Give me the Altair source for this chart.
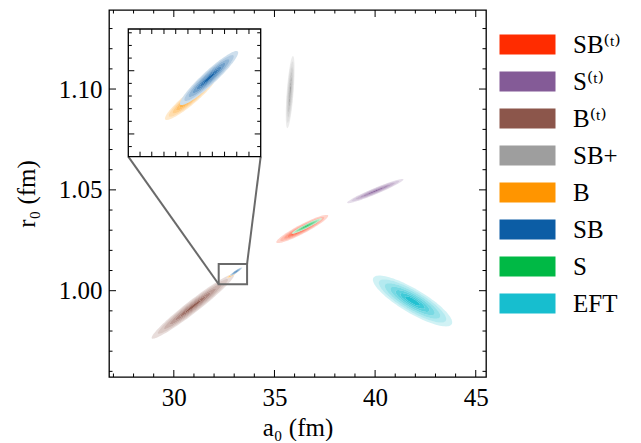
import numpy as np
import pandas as pd
import altair as alt

# ---------------- data ----------------
categories = ["SB⁽ᵗ⁾", "S⁽ᵗ⁾", "B⁽ᵗ⁾", "SB+", "B", "SB", "S", "EFT"]
colors = ["#FF2C00", "#845B97", "#8C564B", "#9E9E9E", "#FF9500", "#0C5DA5", "#00B945", "#17BECF"]
center_a0 = [36.38, 40.01, 30.95, 35.78, 32.89, 33.09, 36.61, 41.86]
center_r0 = [1.0306, 1.0494, 0.9922, 1.0985, 1.0078, 1.00942, 1.0321, 0.9949]
half_a0 = [1.29, 1.40, 2.05, 0.22, 0.27, 0.31, 0.75, 1.97]
half_r0 = [0.0070, 0.0060, 0.0160, 0.0179, 0.00170, 0.00214, 0.0039, 0.0126]
corr = [0.93, 0.96, 0.97, 0.63, 0.93, 0.94, 0.957, -0.84]
level_scale = [1.0, 0.85, 0.7, 0.56, 0.43, 0.31, 0.19]
level_shade = [0.2, 0.32, 0.45, 0.58, 0.7, 0.82, 0.95]
inset_cats = ["B", "SB"]

x_major = [30, 35, 40, 45]
x_minor = [27, 28, 29, 31, 32, 33, 34, 36, 37, 38, 39, 41, 42, 43, 44]
y_major = [1.00, 1.05, 1.10]
y_minor = [0.96, 0.97, 0.98, 0.99, 1.01, 1.02, 1.03, 1.04, 1.06, 1.07, 1.08, 1.09, 1.11, 1.12, 1.13]
inset_x_ticks = [32.355, 32.48, 32.61, 32.735, 32.865, 32.995, 33.125, 33.255, 33.385, 33.515]
inset_y_major = [1.005, 1.010]
inset_y_minor = [1.004, 1.006, 1.007, 1.008, 1.009, 1.011, 1.012, 1.013]

x_domain = [26.78, 45.51]
y_domain = [0.9572, 1.1392]
inset_x_domain = [32.23, 33.64]
inset_y_domain = [1.0032, 1.0133]

# ---------------- layout ----------------
W, H = 377, 367
IX0, IX1, IY0, IY1 = 19.3, 151.7, 19.0, 146.7   # inset frame in plot pixels
FONT = "Liberation Serif, DejaVu Serif, serif"
FS = 25
MAJ, MIN = 7, 3.5
IMAJ, IMIN = 6, 3.5
WHITE = "_white"


def px_to_x(px):
    return x_domain[0] + px / W * (x_domain[1] - x_domain[0])


def py_to_y(py):
    return y_domain[1] - py / H * (y_domain[1] - y_domain[0])


# inset axes -> main axes coordinates (placement of the inset panel)
def inset_x(v):
    v = np.asarray(v, dtype=float)
    return px_to_x(IX0 + (v - inset_x_domain[0]) / (inset_x_domain[1] - inset_x_domain[0]) * (IX1 - IX0))


def inset_y(v):
    v = np.asarray(v, dtype=float)
    return py_to_y(IY1 - (v - inset_y_domain[0]) / (inset_y_domain[1] - inset_y_domain[0]) * (IY1 - IY0))


# ---------------- build filled contour levels ----------------
t = np.linspace(0, 2 * np.pi, 100, endpoint=False)
rows = []
for i, c in enumerate(categories):
    cx, cy, hx, hy, r = center_a0[i], center_r0[i], half_a0[i], half_r0[i], corr[i]
    for j, s in enumerate(level_scale):
        xs = cx + s * hx * np.cos(t)
        ys = cy + s * hy * (r * np.cos(t) + np.sqrt(1 - r * r) * np.sin(t))
        # white underlay then tinted layer -> opaque level colour
        for part, (fc, op) in enumerate([(WHITE, 1.0), (c, level_shade[j])]):
            key = f"{i:02d}-{j:02d}-{part}"
            for k in range(len(t)):
                rows.append({"cat": c, "fc": fc, "op": op, "key": key, "idx": k,
                             "x": xs[k], "y": ys[k]})
poly = pd.DataFrame(rows)
poly_inset = poly[poly["cat"].isin(inset_cats)].copy()
poly_inset["x"] = inset_x(poly_inset["x"])
poly_inset["y"] = inset_y(poly_inset["y"])
poly_inset["key"] = "in-" + poly_inset["key"]

fill_scale = alt.Scale(domain=categories + [WHITE], range=colors + ["#ffffff"])
xs_main = alt.Scale(domain=x_domain, nice=False, zero=False)
ys_main = alt.Scale(domain=y_domain, nice=False, zero=False)

legend = alt.Legend(
    title=None, orient="none", legendX=406, legendY=22, padding=0, values=categories,
    symbolType="M-2.8,-1H2.8V1H-2.8Z", symbolSize=400, symbolOpacity=1,
    symbolStrokeWidth=0, labelFont=FONT, labelFontSize=FS, labelColor="black",
    labelOffset=33, rowPadding=11, labelLimit=0)

x_axis = alt.Axis(title="a₀ (fm)", values=x_major, format="d", ticks=False, tickSize=0,
                  domain=False, grid=False, labelPadding=8, titlePadding=5)
y_axis = alt.Axis(title="r₀ (fm)", values=y_major, format=".2f", ticks=False, tickSize=0,
                  domain=False, grid=False, labelPadding=7, titlePadding=19)

polys_main = alt.Chart(poly).mark_line(
    interpolate="linear-closed", strokeWidth=0, clip=True
).encode(
    x=alt.X("x:Q", scale=xs_main, axis=x_axis),
    y=alt.Y("y:Q", scale=ys_main, axis=y_axis),
    fill=alt.Fill("fc:N", scale=fill_scale, legend=legend),
    fillOpacity=alt.FillOpacity("op:Q", scale=None),
    detail="key:N",
    order="idx:Q",
)

box_df = pd.DataFrame({"x0": [inset_x_domain[0]], "x1": [inset_x_domain[1]],
                       "y0": [inset_y_domain[0]], "y1": [inset_y_domain[1]]})
box = alt.Chart(box_df).mark_rect(fill="transparent", stroke="#6a6a6a", strokeWidth=2).encode(
    x=alt.X("x0:Q"), x2="x1:Q", y=alt.Y("y0:Q"), y2="y1:Q",
)

conn_df = pd.DataFrame({
    "xa": [inset_x_domain[0], inset_x_domain[1]],
    "ya": [inset_y_domain[0], inset_y_domain[1]],
    "xb": [px_to_x(IX0), px_to_x(IX1)],
    "yb": [py_to_y(IY1), py_to_y(IY1)],
})
connectors = alt.Chart(conn_df).mark_rule(color="#6a6a6a", strokeWidth=2).encode(
    x=alt.X("xa:Q"), x2="xb:Q", y=alt.Y("ya:Q"), y2="yb:Q",
)


def xticks(values, length, ytop, ybot):
    d = pd.DataFrame({"v": values})
    b = alt.Chart(d).mark_rule(color="black", strokeWidth=1).encode(
        x=alt.X("v:Q"), y=alt.value(ybot), y2=alt.value(ybot - length))
    tp = alt.Chart(d).mark_rule(color="black", strokeWidth=1).encode(
        x=alt.X("v:Q"), y=alt.value(ytop), y2=alt.value(ytop + length))
    return [b, tp]


def yticks(values, length, xleft, xright):
    d = pd.DataFrame({"v": values})
    l = alt.Chart(d).mark_rule(color="black", strokeWidth=1).encode(
        y=alt.Y("v:Q"), x=alt.value(xleft), x2=alt.value(xleft + length))
    r = alt.Chart(d).mark_rule(color="black", strokeWidth=1).encode(
        y=alt.Y("v:Q"), x=alt.value(xright), x2=alt.value(xright - length))
    return [l, r]


main_ticks = (xticks(x_major, MAJ, 0, H) + xticks(x_minor, MIN, 0, H)
              + yticks(y_major, MAJ, 0, W) + yticks(y_minor, MIN, 0, W))

# inset panel (drawn in main coordinates at the inset's place)
inset_frame_df = pd.DataFrame({"x0": [px_to_x(IX0)], "x1": [px_to_x(IX1)],
                               "y0": [py_to_y(IY1)], "y1": [py_to_y(IY0)]})
inset_bg = alt.Chart(inset_frame_df).mark_rect(fill="white", strokeWidth=0).encode(
    x=alt.X("x0:Q"), x2="x1:Q", y=alt.Y("y0:Q"), y2="y1:Q",
)
polys_inset = alt.Chart(poly_inset).mark_line(
    interpolate="linear-closed", strokeWidth=0
).encode(
    x=alt.X("x:Q"), y=alt.Y("y:Q"),
    fill=alt.Fill("fc:N", scale=fill_scale, legend=legend),
    fillOpacity=alt.FillOpacity("op:Q", scale=None),
    detail="key:N",
    order="idx:Q",
)
inset_ticks = (xticks(list(inset_x(inset_x_ticks)), 5, IY0, IY1)
               + yticks(list(inset_y(inset_y_major)), IMAJ, IX0, IX1)
               + yticks(list(inset_y(inset_y_minor)), IMIN, IX0, IX1))
inset_frame = alt.Chart(inset_frame_df).mark_rect(fill="transparent", stroke="black", strokeWidth=1.3).encode(
    x=alt.X("x0:Q"), x2="x1:Q", y=alt.Y("y0:Q"), y2="y1:Q",
)

chart = alt.layer(
    polys_main, box, connectors, *main_ticks,
    inset_bg, polys_inset, *inset_ticks, inset_frame
).properties(
    width=W, height=H,
    autosize=alt.AutoSizeParams(type="none"),
    padding={"left": 101, "top": 2, "right": 140, "bottom": 64},
    background="white",
).configure_view(
    stroke="black", strokeWidth=1.3
).configure_axis(
    labelFont=FONT, labelFontSize=FS, labelColor="black",
    titleFont=FONT, titleFontSize=FS, titleColor="black", titleFontWeight="normal",
)

chart.save("out.html", embed_options={"renderer": "svg", "actions": False})
